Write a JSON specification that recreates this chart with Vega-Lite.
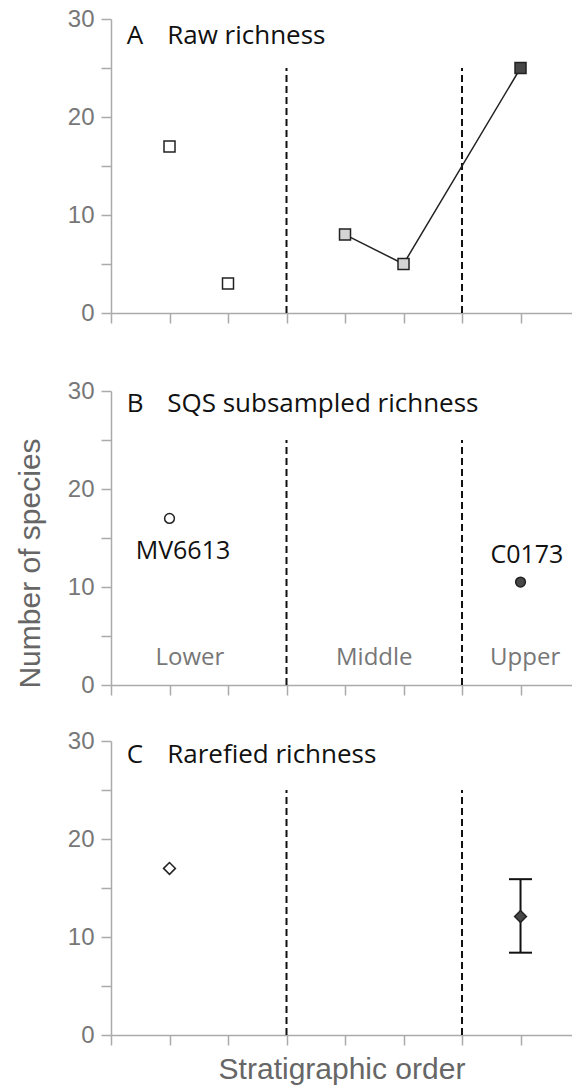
{
  "$schema": "https://vega.github.io/schema/vega-lite/v6.json",
  "padding": {"left": 15, "top": 7, "right": 0, "bottom": 0},
  "spacing": 32,
  "config": {
    "view": {"stroke": null},
    "axis": {"grid": false, "domainColor": "#aaaaaa", "domainWidth": 1.5, "tickColor": "#aaaaaa", "tickWidth": 1.5, "labelColor": "#777777", "labelFont": "Liberation Sans", "labelFontSize": 24, "titleFont": "Liberation Sans", "titleColor": "#666666", "titleFontWeight": "normal"},
    "text": {"font": "Open Sans"}
  },
  "vconcat": [
    {
      "width": 461, "height": 294,
      "data": {"values": [
        {"kind": "div", "x": 3, "y": 0, "y2": 25},
        {"kind": "div", "x": 6, "y": 0, "y2": 25},
        {"kind": "pt", "x": 1, "y": 17, "tone": "white", "seq": ""},
        {"kind": "pt", "x": 2, "y": 3, "tone": "white", "seq": ""},
        {"kind": "pt", "x": 4, "y": 8, "tone": "light", "seq": "mu"},
        {"kind": "pt", "x": 5, "y": 5, "tone": "light", "seq": "mu"},
        {"kind": "pt", "x": 7, "y": 25, "tone": "dark", "seq": "mu"},
        {"kind": "title", "x": 0.27, "y": 27.4, "text": "A"},
        {"kind": "title", "x": 0.96, "y": 27.4, "text": "Raw richness"}
      ]},
      "encoding": {
        "x": {"field": "x", "type": "quantitative", "scale": {"domain": [0, 7.88], "nice": false, "zero": false}, "axis": {"values": [0, 1, 2, 3, 4, 5, 6, 7], "labels": false, "tickSize": 10, "title": null}},
        "y": {"field": "y", "type": "quantitative", "scale": {"domain": [0, 30], "nice": false}, "axis": {"values": [0, 5, 10, 15, 20, 25, 30], "labelExpr": "datum.value % 10 === 0 ? datum.label : ''", "tickSize": 10, "labelPadding": 7, "title": null}}
      },
      "layer": [
        {"transform": [{"filter": "datum.kind === 'div'"}], "mark": {"type": "rule", "strokeDash": [7, 4], "strokeWidth": 2, "color": "#111111"}, "encoding": {"y2": {"field": "y2"}}},
        {"transform": [{"filter": "datum.seq === 'mu'"}], "mark": {"type": "line", "color": "#222222", "strokeWidth": 1.5}, "encoding": {}},
        {"transform": [{"filter": "datum.kind === 'pt'"}], "mark": {"type": "point", "shape": "square", "filled": true, "size": 121, "stroke": "#222222", "strokeWidth": 1.5, "opacity": 1}, "encoding": {"fill": {"field": "tone", "type": "nominal", "scale": {"domain": ["white", "light", "dark"], "range": ["#ffffff", "#d4d4d4", "#474747"]}, "legend": null}}},
        {"transform": [{"filter": "datum.kind === 'title'"}], "mark": {"type": "text", "align": "left", "baseline": "alphabetic", "fontSize": 26, "color": "#111111"}, "encoding": {"text": {"field": "text"}}}
      ]
    },
    {
      "width": 461, "height": 294,
      "title": {"text": " ", "fontSize": 16, "offset": 6},
      "data": {"values": [
        {"kind": "div", "x": 3, "y": 0, "y2": 25},
        {"kind": "div", "x": 6, "y": 0, "y2": 25},
        {"kind": "pt", "x": 1, "y": 17, "tone": "white"},
        {"kind": "pt", "x": 7, "y": 10.5, "tone": "dark"},
        {"kind": "lab", "x": 1.23, "y": 12.9, "text": "MV6613"},
        {"kind": "lab", "x": 7.11, "y": 12.4, "text": "C0173"},
        {"kind": "zone", "x": 1.35, "y": 2.05, "text": "Lower"},
        {"kind": "zone", "x": 4.5, "y": 2.05, "text": "Middle"},
        {"kind": "zone", "x": 7.08, "y": 2.05, "text": "Upper"},
        {"kind": "title", "x": 0.27, "y": 27.9, "text": "B"},
        {"kind": "title", "x": 0.96, "y": 27.9, "text": "SQS subsampled richness"}
      ]},
      "encoding": {
        "x": {"field": "x", "type": "quantitative", "scale": {"domain": [0, 7.88], "nice": false, "zero": false}, "axis": {"values": [0, 1, 2, 3, 4, 5, 6, 7], "labels": false, "tickSize": 10, "title": null}},
        "y": {"field": "y", "type": "quantitative", "scale": {"domain": [0, 30], "nice": false}, "axis": {"values": [0, 5, 10, 15, 20, 25, 30], "labelExpr": "datum.value % 10 === 0 ? datum.label : ''", "tickSize": 10, "labelPadding": 7, "title": "Number of species", "titleFontSize": 30, "titleFont": "Liberation Sans Narrow, Liberation Sans", "titlePadding": 22, "titleY": 172}}
      },
      "layer": [
        {"transform": [{"filter": "datum.kind === 'div'"}], "mark": {"type": "rule", "strokeDash": [7, 4], "strokeWidth": 2, "color": "#111111"}, "encoding": {"y2": {"field": "y2"}}},
        {"transform": [{"filter": "datum.kind === 'pt'"}], "mark": {"type": "point", "shape": "circle", "filled": true, "size": 95, "stroke": "#222222", "strokeWidth": 1.5, "opacity": 1}, "encoding": {"fill": {"field": "tone", "type": "nominal", "scale": {"domain": ["white", "light", "dark"], "range": ["#ffffff", "#d4d4d4", "#474747"]}, "legend": null}}},
        {"transform": [{"filter": "datum.kind === 'lab'"}], "mark": {"type": "text", "align": "center", "baseline": "alphabetic", "fontSize": 25, "color": "#111111"}, "encoding": {"text": {"field": "text"}}},
        {"transform": [{"filter": "datum.kind === 'zone'"}], "mark": {"type": "text", "align": "center", "baseline": "alphabetic", "fontSize": 24, "color": "#777777"}, "encoding": {"text": {"field": "text"}}},
        {"transform": [{"filter": "datum.kind === 'title'"}], "mark": {"type": "text", "align": "left", "baseline": "alphabetic", "fontSize": 26, "color": "#111111"}, "encoding": {"text": {"field": "text"}}}
      ]
    },
    {
      "width": 461, "height": 294,
      "data": {"values": [
        {"kind": "div", "x": 3, "y": 0, "y2": 25},
        {"kind": "div", "x": 6, "y": 0, "y2": 25},
        {"kind": "err", "x": 7, "y": 8.4, "y2": 15.9},
        {"kind": "cap", "x": 7, "y": 8.4},
        {"kind": "cap", "x": 7, "y": 15.9},
        {"kind": "pt", "x": 1, "y": 17, "tone": "white"},
        {"kind": "pt", "x": 7, "y": 12.1, "tone": "dark"},
        {"kind": "title", "x": 0.27, "y": 27.8, "text": "C"},
        {"kind": "title", "x": 0.96, "y": 27.8, "text": "Rarefied richness"}
      ]},
      "encoding": {
        "x": {"field": "x", "type": "quantitative", "scale": {"domain": [0, 7.88], "nice": false, "zero": false}, "axis": {"values": [0, 1, 2, 3, 4, 5, 6, 7], "labels": false, "tickSize": 10, "title": "Stratigraphic order", "titleFontSize": 30, "titlePadding": 9}},
        "y": {"field": "y", "type": "quantitative", "scale": {"domain": [0, 30], "nice": false}, "axis": {"values": [0, 5, 10, 15, 20, 25, 30], "labelExpr": "datum.value % 10 === 0 ? datum.label : ''", "tickSize": 10, "labelPadding": 7, "title": null}}
      },
      "layer": [
        {"transform": [{"filter": "datum.kind === 'div'"}], "mark": {"type": "rule", "strokeDash": [7, 4], "strokeWidth": 2, "color": "#111111"}, "encoding": {"y2": {"field": "y2"}}},
        {"transform": [{"filter": "datum.kind === 'err'"}], "mark": {"type": "rule", "strokeWidth": 2, "color": "#111111"}, "encoding": {"y2": {"field": "y2"}}},
        {"transform": [{"filter": "datum.kind === 'cap'"}], "mark": {"type": "tick", "orient": "horizontal", "size": 23, "thickness": 2, "color": "#111111", "opacity": 1}, "encoding": {}},
        {"transform": [{"filter": "datum.kind === 'pt'"}], "mark": {"type": "point", "shape": "diamond", "filled": true, "size": 140, "stroke": "#222222", "strokeWidth": 1.5, "opacity": 1}, "encoding": {"fill": {"field": "tone", "type": "nominal", "scale": {"domain": ["white", "light", "dark"], "range": ["#ffffff", "#d4d4d4", "#474747"]}, "legend": null}}},
        {"transform": [{"filter": "datum.kind === 'title'"}], "mark": {"type": "text", "align": "left", "baseline": "alphabetic", "fontSize": 26, "color": "#111111"}, "encoding": {"text": {"field": "text"}}}
      ]
    }
  ]
}
